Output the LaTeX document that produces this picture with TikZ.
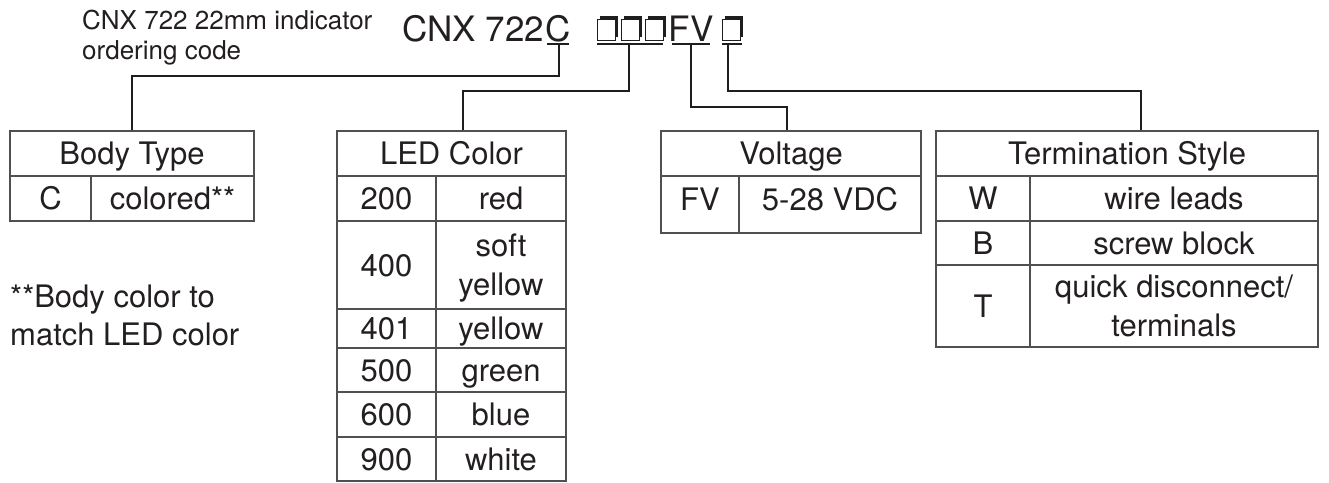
\documentclass[tikz,border=0pt]{standalone}
\usepackage{fontspec}
\setmainfont{TeX Gyre Heros}
\definecolor{ink}{HTML}{231F20}
\definecolor{tline}{HTML}{505050}
\definecolor{cline}{HTML}{1E1E1E}
\newcommand\tabfont{\fontsize{31}{38}\selectfont}
\newcommand\codefont{\fontsize{35}{42}\selectfont}
\newcommand\labfont{\fontsize{26}{30}\selectfont}
\newcommand\codebox[1]{%
  \fill[cline] (#1+3,16) rectangle (#1+21,37);
  \filldraw[fill=white,draw=cline,line width=1pt] (#1,19) rectangle (#1+18,40);}
\begin{document}
\begin{tikzpicture}[x=1pt,y=-1pt,
  txt/.style={inner sep=0pt,text=ink},
  cell/.style={draw=tline,line width=1.4pt,inner sep=0pt,text=ink,font=\tabfont,
    text height=22.2pt,text depth=0pt},
  conn/.style={draw=cline,line width=2.8pt},
  uline/.style={draw=cline,line width=2pt}]
\useasboundingbox (0,0) rectangle (1329,482);
% title
\node[txt,font=\labfont,anchor=base west] (lab1) at (82,29) {CNX 722 22mm indicator};
\node[txt,font=\labfont,anchor=base west] (lab2) at (82,59) {ordering code};
% code
\node[txt,font=\codefont,anchor=base west] (cnx) at (402,41) {CNX 722};
\node[txt,font=\codefont,anchor=base] (pC) at (558,41) {C};
\node[txt,font=\codefont,anchor=base] (pFV) at (691,41) {FV};
\codebox{597}\codebox{621}\codebox{645}\codebox{722}
\draw[uline] (547,43.5) -- (569,43.5);
\draw[uline] (597,43.5) -- (663,43.5);
\draw[uline] (672,43.5) -- (710,43.5);
\draw[uline] (722,43.5) -- (742,43.5);
% Body Type
\node[cell,minimum width=244pt,minimum height=45pt] (bth) at (132,153.5) {Body Type};
\node[cell,minimum width=81pt,minimum height=45pt] (bc1) at (50.5,198.5) {C};
\node[cell,minimum width=163pt,minimum height=45pt] (bc2) at (172.5,198.5) {colored**};
% LED Color
\node[cell,minimum width=229pt,minimum height=45pt] (ledh) at (451.5,153.5) {LED Color};
\node[cell,minimum width=99pt,minimum height=45pt] (l200) at (386.5,198.5) {200};
\node[cell,minimum width=130pt,minimum height=45pt] (lred) at (501,198.5) {red};
\node[cell,minimum width=99pt,minimum height=88pt] (l400) at (386.5,265) {400};
\node[cell,minimum width=130pt,minimum height=88pt,text height=0pt] (lsoft) at (501,265) {};
\node[txt,font=\tabfont,anchor=base] (tsoft) at (501,256.5) {soft};
\node[txt,font=\tabfont,anchor=base] (tsy) at (501,295.5) {yellow};
\node[cell,minimum width=99pt,minimum height=39pt] (l401) at (386.5,328.5) {401};
\node[cell,minimum width=130pt,minimum height=39pt] (lyel) at (501,328.5) {yellow};
\node[cell,minimum width=99pt,minimum height=44pt] (l500) at (386.5,370) {500};
\node[cell,minimum width=130pt,minimum height=44pt] (lgrn) at (501,370) {green};
\node[cell,minimum width=99pt,minimum height=45pt] (l600) at (386.5,414.5) {600};
\node[cell,minimum width=130pt,minimum height=45pt] (lblu) at (501,414.5) {blue};
\node[cell,minimum width=99pt,minimum height=44pt] (l900) at (386.5,459) {900};
\node[cell,minimum width=130pt,minimum height=44pt] (lwht) at (501,459) {white};
% Voltage
\node[cell,minimum width=260pt,minimum height=45pt] (vh) at (791,153.5) {Voltage};
\node[cell,minimum width=78pt,minimum height=57pt,text depth=10pt] (vfv) at (700,204.5) {FV};
\node[cell,minimum width=182pt,minimum height=57pt,text depth=10pt] (vvdc) at (830,204.5) {5-28 VDC};
% Termination Style
\node[cell,minimum width=382pt,minimum height=45pt] (th) at (1127,153.5) {Termination Style};
\node[cell,minimum width=94pt,minimum height=45pt] (tW) at (983,198.5) {W};
\node[cell,minimum width=288pt,minimum height=45pt] (tWl) at (1174,198.5) {wire leads};
\node[cell,minimum width=94pt,minimum height=44pt] (tB) at (983,243) {B};
\node[cell,minimum width=288pt,minimum height=44pt] (tBl) at (1174,243) {screw block};
\node[cell,minimum width=94pt,minimum height=82pt] (tT) at (983,306) {T};
\node[cell,minimum width=288pt,minimum height=82pt,text height=0pt] (tTl) at (1174,306) {};
\node[txt,font=\tabfont,anchor=base] (tq) at (1174,297.5) {quick disconnect/};
\node[txt,font=\tabfont,anchor=base] (tterm) at (1174,336.5) {terminals};
% footnote
\node[txt,font=\tabfont,anchor=base west] (fn1) at (10,307) {**Body color to};
\node[txt,font=\tabfont,anchor=base west] (fn2) at (10,345) {match LED color};
% connectors
\coordinate (sC) at (559,43);
\coordinate (sB) at (629,43);
\coordinate (sF) at (691,43);
\coordinate (sT) at (728,43);
\coordinate (kB) at (132,76);
\coordinate (kL) at (463,91);
\coordinate (kV) at (787,107);
\coordinate (kT) at (1141,91);
\draw[conn] (sC) |- (kB) -- (bth.north);
\draw[conn] (sB) |- (kL) -- (kL |- ledh.north);
\draw[conn] (sF) |- (kV) -- (kV |- vh.north);
\draw[conn] (sT) |- (kT) -- (kT |- th.north);
\end{tikzpicture}
\end{document}
